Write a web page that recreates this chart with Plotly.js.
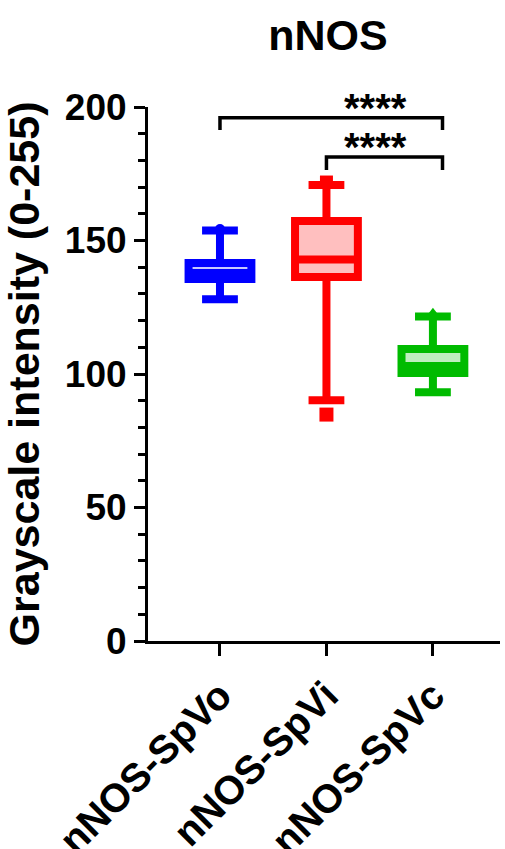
<!DOCTYPE html>
<html>
<head>
<meta charset="utf-8">
<script src="https://cdn.plot.ly/plotly-3.0.1.min.js"></script>
<style>html,body{margin:0;padding:0;background:#fff;}#chart{width:505px;height:849px;}</style>
</head>
<body>
<div id="chart"></div>
<script>
// ---- data ----
const categories = ['nNOS-SpVo', 'nNOS-SpVi', 'nNOS-SpVc'];
const lowerFence = [128.0, 90.2, 93.2];
const q1 = [135.6, 136.3, 100.4];
const median = [137.8, 142.9, 103.0];
const q3 = [141.6, 157.3, 109.4];
const upperFence = [153.7, 170.8, 121.5];
const maxPointVal = [154.3, 171.9, 122.6];
const outlierCat = ['nNOS-SpVi'];
const outlierVal = [84.8];
const yTicks = [0, 50, 100, 150, 200];
const compLeft = [0, 1];
const compRight = [2, 2];
const compBarY = [196.0, 181.3];
const compLegY = [191.4, 176.4];
const compLabels = ['****', '****'];

const colors = ['#0000ff', '#ff0000', '#00bb00'];
const fills = ['rgba(0,0,255,0.22)', 'rgba(255,0,0,0.25)', 'rgba(0,187,0,0.25)'];
const symbols = ['circle', 'square', 'triangle-up'];
const symSizes = [10, 13, 12];
const FONT = 'Liberation Sans, Arial, sans-serif';

const traces = [];
categories.forEach((c, i) => {
  traces.push({
    type: 'scatter', mode: 'markers', x: [c], y: [maxPointVal[i]],
    marker: {symbol: symbols[i], size: symSizes[i], color: colors[i]},
    showlegend: false, hoverinfo: 'skip', cliponaxis: false
  });
});
categories.forEach((c, i) => {
  traces.push({
    type: 'box',
    x: [c],
    q1: [q1[i]], median: [median[i]], q3: [q3[i]],
    lowerfence: [lowerFence[i]], upperfence: [upperFence[i]],
    line: {color: colors[i], width: 8},
    fillcolor: fills[i],
    width: 0.59,
    whiskerwidth: 0.57,
    boxpoints: false,
    hoverinfo: 'skip',
    showlegend: false
  });
});
traces.push({
  type: 'scatter', mode: 'markers', x: outlierCat, y: outlierVal,
  marker: {symbol: 'square', size: 14, color: colors[1]},
  showlegend: false, hoverinfo: 'skip', cliponaxis: false
});

const yMax = 200;
const toPaper = v => v / yMax;
const shapes = [];
const annotations = [];
compLeft.forEach((l, i) => {
  const r = compRight[i] + 0.09;
  shapes.push({
    type: 'path', xref: 'x', yref: 'paper',
    path: `M ${l},${toPaper(compLegY[i])} L ${l},${toPaper(compBarY[i])} L ${r},${toPaper(compBarY[i])} L ${r},${toPaper(compLegY[i])}`,
    line: {color: '#000', width: 3.5}
  });
  annotations.push({
    xref: 'x', yref: 'paper', x: 1.46, y: toPaper(compBarY[i]),
    yshift: 10, yanchor: 'middle', xanchor: 'center',
    text: compLabels[i], showarrow: false,
    font: {family: FONT, size: 40, color: '#000', weight: 'bold'}
  });
});

const layout = {
  width: 505, height: 849,
  margin: {l: 148, r: 5, t: 107, b: 208},
  paper_bgcolor: '#fff', plot_bgcolor: '#fff',
  font: {family: FONT, color: '#000'},
  title: {
    text: 'nNOS', x: 0.511, xref: 'paper', xanchor: 'center',
    y: 1 - 35 / 849, yref: 'container', yanchor: 'middle',
    font: {family: FONT, size: 43, color: '#000', weight: 'bold'}
  },
  xaxis: {
    type: 'category', categoryorder: 'array', categoryarray: categories,
    range: [-0.676, 2.63],
    showline: true, linecolor: '#000', linewidth: 3,
    ticks: 'outside', ticklen: 12, tickwidth: 3, tickcolor: '#000',
    tickangle: -45,
    tickfont: {family: FONT, size: 40, color: '#000', weight: 'bold'},
    showgrid: false, zeroline: false, fixedrange: true
  },
  yaxis: {
    range: [0, yMax],
    tickvals: yTicks, ticktext: yTicks.map(String),
    showline: true, linecolor: '#000', linewidth: 3,
    ticks: 'outside', ticklen: 11, tickwidth: 3, tickcolor: '#000',
    minor: {dtick: 10, ticks: 'outside', ticklen: 7, tickwidth: 3, tickcolor: '#000', showgrid: false},
    tickfont: {family: FONT, size: 37, color: '#000', weight: 'bold'},
    title: {text: 'Grayscale intensity (0-255)', standoff: 12,
      font: {family: FONT, size: 43, color: '#000', weight: 'bold'}},
    showgrid: false, zeroline: false, fixedrange: true
  },
  shapes: shapes,
  annotations: annotations,
  showlegend: false
};

Plotly.newPlot('chart', traces, layout, {displayModeBar: false, staticPlot: true});
</script>
</body>
</html>
